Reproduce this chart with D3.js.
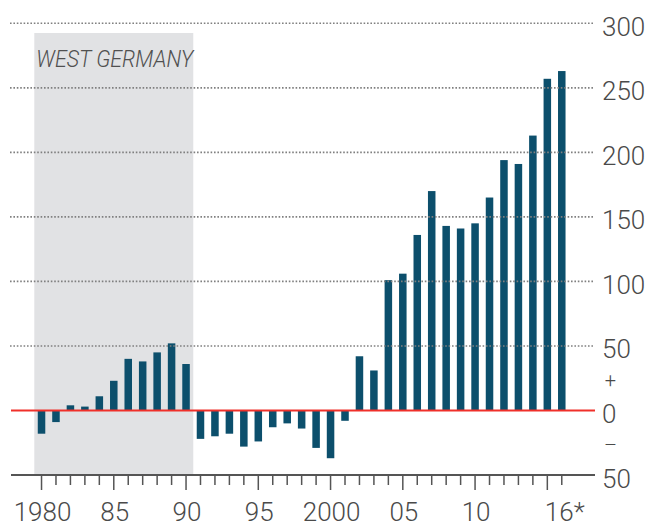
<!DOCTYPE html>
<html>
<head>
<meta charset="utf-8">
<script src="https://cdn.jsdelivr.net/npm/d3@7"></script>
<style>
  html, body { margin: 0; padding: 0; background: #fff; }
  text { font-family: Roboto, "Open Sans", sans-serif; }
</style>
</head>
<body>
<div id="wrapper"></div>
<script>
// years on the x axis
const years = [1980, 1981, 1982, 1983, 1984, 1985, 1986, 1987, 1988, 1989, 1990,
  1991, 1992, 1993, 1994, 1995, 1996, 1997, 1998, 1999, 2000, 2001,
  2002, 2003, 2004, 2005, 2006, 2007, 2008, 2009, 2010, 2011, 2012, 2013, 2014, 2015, 2016];

// bar values
const values = [-18, -9, 4, 3, 11, 23, 40, 38, 45, 52, 36,
  -22, -20, -18, -28, -24, -13, -10, -14, -29, -37, -8,
  42, 31, 101, 106, 136, 170, 143, 141, 145, 165, 194, 191, 213, 257, 263];

const yTicks = [-50, 0, 50, 100, 150, 200, 250, 300];
const yTickLabels = ["50", "0", "50", "100", "150", "200", "250", "300"];
const majorYears = [1980, 1985, 1990, 1995, 2000, 2005, 2010, 2015];
const xLabelYears = [1980, 1985, 1990, 1995, 2000, 2005, 2010, 2016];
const xLabels = ["1980", "85", "90", "95", "2000", "05", "10", "16*"];
const shadeYears = [1980, 1990];
const shadeLabel = "WEST GERMANY";

const data = years.map((y, i) => ({ year: y, value: values[i] }));

const width = 652, height = 526;

const svg = d3.select("#wrapper").append("svg")
  .attr("width", width)
  .attr("height", height);

const x = d3.scaleBand()
  .domain(years)
  .range([34.3, 569])
  .paddingInner(0.48)
  .paddingOuter(0.24);

const y = d3.scaleLinear()
  .domain([-50, 300])
  .range([475, 23.3]);

const half = x.step() * x.paddingInner() / 2;
const cx = d => x(d) + x.bandwidth() / 2;

// West Germany shading
svg.append("rect")
  .attr("x", x(shadeYears[0]) - half)
  .attr("y", 33)
  .attr("width", x(shadeYears[1]) + x.bandwidth() + half - (x(shadeYears[0]) - half))
  .attr("height", y(-50) - 33)
  .attr("fill", "#e1e2e4");

svg.append("text")
  .attr("x", x(shadeYears[0]) - half + 2)
  .attr("y", 67)
  .attr("font-size", 23)
  .attr("font-style", "italic")
  .attr("font-weight", 300)
  .attr("fill", "#505050")
  .attr("textLength", 157)
  .attr("lengthAdjust", "spacingAndGlyphs")
  .text(shadeLabel);

// bars
svg.selectAll("rect.bar")
  .data(data)
  .join("rect")
  .attr("class", "bar")
  .attr("x", d => x(d.year))
  .attr("width", x.bandwidth())
  .attr("y", d => y(Math.max(0, d.value)))
  .attr("height", d => Math.abs(y(d.value) - y(0)))
  .attr("fill", "#0c4f6c");

// dotted gridlines
svg.selectAll("line.grid")
  .data(yTicks.filter(d => d > 0))
  .join("line")
  .attr("class", "grid")
  .attr("x1", 10)
  .attr("x2", 593)
  .attr("y1", d => y(d))
  .attr("y2", d => y(d))
  .attr("stroke", "#808080")
  .attr("stroke-width", 1.6)
  .attr("stroke-dasharray", "1.6 1.8");

// bottom axis line
svg.append("line")
  .attr("x1", 11).attr("x2", 595)
  .attr("y1", y(-50)).attr("y2", y(-50))
  .attr("stroke", "#555").attr("stroke-width", 1.8);

// year ticks
svg.selectAll("line.tick")
  .data(years)
  .join("line")
  .attr("class", "tick")
  .attr("x1", d => cx(d)).attr("x2", d => cx(d))
  .attr("y1", y(-50))
  .attr("y2", d => y(-50) + (majorYears.includes(d) ? 15 : 10))
  .attr("stroke", "#555").attr("stroke-width", 1.5);

// zero line
svg.append("line")
  .attr("x1", 11).attr("x2", 595)
  .attr("y1", y(0)).attr("y2", y(0))
  .attr("stroke", "#f0302a").attr("stroke-width", 2);

// x labels
svg.selectAll("text.xlab")
  .data(xLabelYears)
  .join("text")
  .attr("class", "xlab")
  .attr("x", (d, i) => cx(d) + (xLabels[i].endsWith("*") ? 3 : 1))
  .attr("y", 520.5)
  .attr("text-anchor", "middle")
  .attr("font-size", 26)
  .attr("font-weight", 300)
  .attr("fill", "#4a4a4a")
  .text((d, i) => xLabels[i]);

// y labels
svg.selectAll("text.ylab")
  .data(yTicks)
  .join("text")
  .attr("class", "ylab")
  .attr("x", 602)
  .attr("y", d => y(d) + 12.5)
  .attr("font-size", 26)
  .attr("font-weight", 300)
  .attr("fill", "#4a4a4a")
  .text((d, i) => yTickLabels[i]);

// + / - signs
svg.selectAll("text.sign")
  .data([25, -25])
  .join("text")
  .attr("class", "sign")
  .attr("x", 610.5)
  .attr("y", d => y(d) + 2)
  .attr("text-anchor", "middle")
  .attr("dominant-baseline", "central")
  .attr("font-size", 20)
  .attr("font-weight", 300)
  .attr("fill", "#4a4a4a")
  .text(d => d > 0 ? "+" : "–");
</script>
</body>
</html>
